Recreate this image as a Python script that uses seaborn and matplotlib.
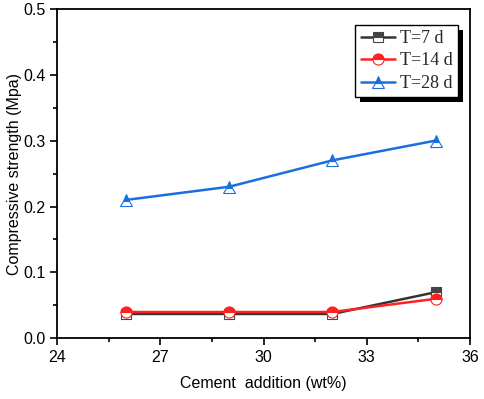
import matplotlib
matplotlib.use('Agg')
import matplotlib.pyplot as plt
from matplotlib.ticker import MultipleLocator, AutoMinorLocator, FormatStrFormatter
from matplotlib.patches import Rectangle
import seaborn as sns
import pandas as pd

cement = [26, 29, 32, 35]
t7 = [0.037, 0.037, 0.037, 0.07]
t14 = [0.04, 0.04, 0.04, 0.06]
t28 = [0.21, 0.23, 0.27, 0.30]
series_labels = ['T=7 d', 'T=14 d', 'T=28 d']

sns.set_theme(style='ticks')
plt.rcParams['font.family'] = ['Liberation Sans', 'DejaVu Sans']

df = pd.DataFrame({
    'cement': cement * 3,
    'strength': t7 + t14 + t28,
    'series': [s for s in series_labels for _ in cement],
})

fig = plt.figure(figsize=(4.84, 3.99), dpi=100)
ax = fig.add_axes([0.118, 0.152, 0.853, 0.826])

styles = {
    'T=7 d': dict(color='#333333', marker='s', mc='#444444', ms=7, z=2),
    'T=14 d': dict(color='#ff2020', marker='o', mc='#ff2020', ms=8, z=3),
    'T=28 d': dict(color='#1a6fe0', marker='^', mc='#1a6fe0', ms=8, z=3),
}
for s in series_labels:
    sub = df[df['series'] == s]
    st = styles[s]
    sns.lineplot(data=sub, x='cement', y='strength', ax=ax, color=st['color'],
                 linewidth=1.8, marker=st['marker'], markersize=st['ms'],
                 markerfacecolor=st['mc'], markeredgecolor=st['mc'],
                 fillstyle='top', markerfacecoloralt='white', markeredgewidth=0.8,
                 label=s, zorder=st['z'])

ax.set_xlim(24, 36)
ax.set_ylim(0, 0.5)
ax.xaxis.set_major_locator(MultipleLocator(3))
ax.xaxis.set_minor_locator(AutoMinorLocator(2))
ax.yaxis.set_major_locator(MultipleLocator(0.1))
ax.yaxis.set_minor_locator(AutoMinorLocator(2))
ax.yaxis.set_major_formatter(FormatStrFormatter('%.1f'))
ax.tick_params(which='both', direction='out', color='black', width=1.2,
               labelsize=11.5, labelcolor='black')
ax.tick_params(which='major', length=5)
ax.tick_params(which='minor', length=3)
for sp in ax.spines.values():
    sp.set_visible(True)
    sp.set_color('black')
    sp.set_linewidth(1.3)

ax.set_xlabel('Cement  addition (wt%)', fontsize=11.5, color='black', labelpad=8)
ax.set_ylabel('Compressive strength (Mpa)', fontsize=11.5, color='black', labelpad=1)

leg = ax.legend(loc='upper right', bbox_to_anchor=(0.972, 0.952), frameon=True,
                fancybox=False, framealpha=1.0,
                prop={'family': 'Liberation Serif', 'size': 13},
                handlelength=1.9, handletextpad=0.3, borderpad=0.3, labelspacing=0.3,
                borderaxespad=0)
leg.get_frame().set_edgecolor('black')
leg.get_frame().set_facecolor('white')
leg.get_frame().set_linewidth(1.0)
leg.set_zorder(5)

# solid black drop shadow behind the legend box
fig.canvas.draw()
bb = leg.get_frame().get_window_extent().transformed(fig.transFigure.inverted())
dx, dy = 5 / 484, 5 / 399
ax.add_patch(Rectangle((bb.x0 + dx, bb.y0 - dy), bb.width, bb.height,
                       transform=fig.transFigure, facecolor='black', edgecolor='none',
                       zorder=4.9, clip_on=False))

fig.savefig('out.png', dpi=100)
